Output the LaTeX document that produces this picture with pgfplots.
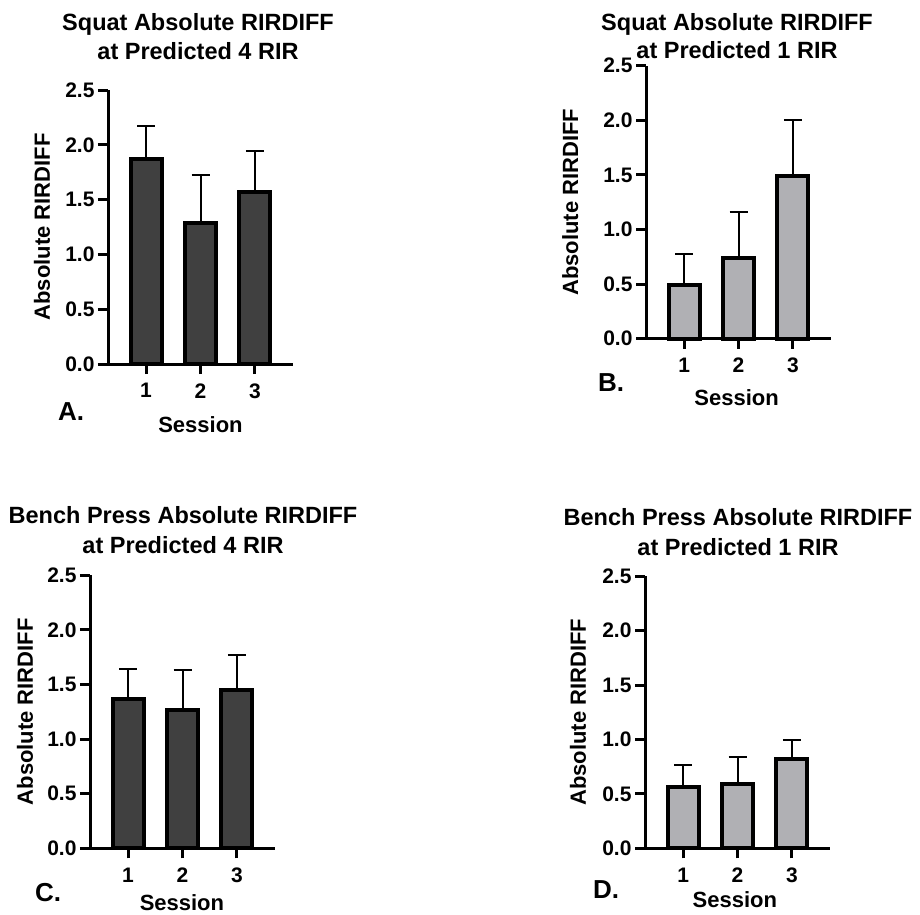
\documentclass[border=0pt]{standalone}
\usepackage{fontspec}
\setmainfont{Liberation Sans}
\usepackage{pgfplots}
\pgfplotsset{compat=1.18}
\definecolor{darkbar}{RGB}{64,64,64}
\definecolor{lightbar}{RGB}{176,176,180}
\newcommand{\fs}[1]{\fontsize{#1}{#1}\selectfont\bfseries}
\pgfplotsset{
  prism/.style={
    scale only axis, width=185pt,
    xmin=0.3, xmax=3.7, ymin=0, ymax=2.5,
    xtick={1,2,3}, xticklabels={1,2,3},
    ytick={0,0.5,1,1.5,2,2.5},
    axis x line*=bottom, axis y line*=left,
    axis line style={line width=3pt},
    tick style={line width=3pt, black},
    major tick length=10pt, tick align=outside,
    tick label style={font=\fs{21}},
    xticklabel style={yshift=-6pt},
    yticklabel style={/pgf/number format/.cd, fixed, fixed zerofill, precision=1, assume math mode=true},
    label style={font=\fs{22}},
    ylabel={Absolute RIRDIFF},
    xlabel={Session},
    clip=false,
    anchor=south west,
  },
  prismbar/.style={ybar, bar width=31pt, fill=#1, draw=black, line width=4pt,
    error bars/.cd, y dir=plus, y explicit,
    error bar style={line width=2pt, black},
    error mark=|,
    error mark options={line width=2pt, mark size=9pt, black}},
}
\begin{document}
\begin{tikzpicture}
\useasboundingbox (0pt,0pt) rectangle (920pt,-914pt);
% A
\begin{axis}[prism, at={(108pt,-364pt)}, height=274pt,
  xlabel style={at={(axis description cs:0.5,-0.223)}, anchor=center},
  ylabel style={at={(axis description cs:-0.357,0.5)}, anchor=center}]
\addplot[prismbar=darkbar] coordinates {(1,1.87) +- (0,0.30) (2,1.29) +- (0,0.43) (3,1.57) +- (0,0.37)};
\end{axis}
% B
\begin{axis}[prism, at={(646pt,-338.7pt)}, height=273pt,
  xlabel style={at={(axis description cs:0.49,-0.217)}, anchor=center},
  ylabel style={at={(axis description cs:-0.41,0.5)}, anchor=center}]
\addplot[prismbar=lightbar] coordinates {(1,0.49) +- (0,0.29) (2,0.74) +- (0,0.42) (3,1.49) +- (0,0.51)};
\end{axis}
% C
\begin{axis}[prism, at={(90pt,-848.3pt)}, height=273pt,
  xlabel style={at={(axis description cs:0.497,-0.2)}, anchor=center},
  ylabel style={at={(axis description cs:-0.351,0.5)}, anchor=center}]
\addplot[prismbar=darkbar] coordinates {(1,1.37) +- (0,0.27) (2,1.27) +- (0,0.36) (3,1.45) +- (0,0.32)};
\end{axis}
% D
\begin{axis}[prism, at={(645pt,-848.3pt)}, height=272pt,
  xlabel style={at={(axis description cs:0.486,-0.19)}, anchor=center},
  ylabel style={at={(axis description cs:-0.362,0.5)}, anchor=center}]
\addplot[prismbar=lightbar] coordinates {(1,0.56) +- (0,0.21) (2,0.59) +- (0,0.25) (3,0.82) +- (0,0.18)};
\end{axis}
% titles
\node[align=center, font=\fontsize{23.5}{29}\selectfont\bfseries] at (198pt,-37pt) {Squat Absolute RIRDIFF\\at Predicted 4 RIR};
\node[align=center, font=\fontsize{23.5}{28}\selectfont\bfseries] at (737pt,-36pt) {Squat Absolute RIRDIFF\\at Predicted 1 RIR};
\node[align=center, font=\fontsize{23.5}{30}\selectfont\bfseries] at (183pt,-530pt) {Bench Press Absolute RIRDIFF\\at Predicted 4 RIR};
\node[align=center, font=\fontsize{23.5}{30}\selectfont\bfseries] at (738pt,-532pt) {Bench Press Absolute RIRDIFF\\at Predicted 1 RIR};
% panel letters
\node[font=\fs{26}] at (71pt,-412pt) {A.};
\node[font=\fs{26}] at (611pt,-383pt) {B.};
\node[font=\fs{26}] at (48pt,-893pt) {C.};
\node[font=\fs{26}] at (606pt,-890pt) {D.};
\end{tikzpicture}
\end{document}
